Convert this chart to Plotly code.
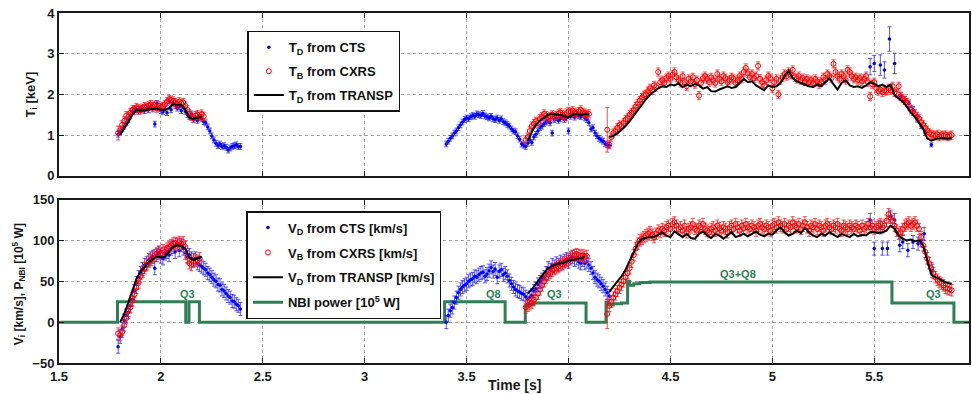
import numpy as np
import plotly.graph_objects as go
from plotly.subplots import make_subplots

# ---------------- DATA ----------------
# sampling grids: (start time [s], step [s]); values follow in the lists
# ---- Top panel: ion temperature [keV]
ti_cts1_start, ti_cts1_step = 1.79, 0.01
ti_cts1 = [1.02, 1.08, 1.15, 1.22, 1.30, 1.38, 1.47, 1.58, 1.66, 1.62,
           1.58, 1.63, 1.66, 1.60, 1.67, 1.62, 1.70, 1.64, 1.27, 1.78,
           1.66, 1.60, 1.57, 1.64, 1.55, 1.84, 1.62, 1.80, 1.72, 1.66,
           1.70, 1.60, 1.68, 1.58, 1.50, 1.45, 1.52, 1.38, 1.42, 1.36,
           1.48, 1.40, 1.33, 1.30, 1.20, 1.10, 0.98, 0.88, 0.80, 0.74,
           0.78, 0.72, 0.74, 0.70, 0.63, 0.68, 0.72, 0.74, 0.76, 0.72, 0.72]
ti_cts2_start, ti_cts2_step = 3.40, 0.01
ti_cts2 = [0.78, 0.85, 0.92, 0.98, 1.05, 1.10, 1.18, 1.25, 1.32, 1.38,
           1.42, 1.40, 1.45, 1.48, 1.46, 1.52, 1.50, 1.48, 1.53, 1.47,
           1.45, 1.42, 1.46, 1.40, 1.38, 1.42, 1.36, 1.40, 1.33, 1.30,
           1.26, 1.22, 1.15, 1.10, 1.08, 0.98, 0.90, 0.78, 0.75, 0.72,
           0.80, 0.88, 0.82, 0.95, 1.02, 1.10, 1.18, 1.22, 1.28, 1.32,
           1.35, 1.30, 1.05, 1.38, 1.42, 1.36, 1.40, 1.45, 1.38, 1.42,
           1.10, 1.46, 1.50, 1.44, 1.52, 1.48, 1.45, 1.50, 1.42, 1.38,
           1.30, 1.15, 1.18, 1.05, 0.98, 0.92, 0.88, 0.85, 0.78, 0.76, 0.75]
ti_cts3_t = [5.48, 5.50, 5.53, 5.55, 5.575, 5.60, 5.63, 5.65, 5.67, 5.69, 5.71, 5.73, 5.75, 5.78]
ti_cts3 = [2.68, 2.76, 2.72, 2.60, 3.36, 2.76, 1.95, 1.85, 1.78, 1.62, 1.40, 1.22, 1.05, 0.76]
ti_cts3_err = [0.2, 0.2, 0.25, 0.2, 0.3, 0.25, 0.1, 0.1, 0.08, 0.08, 0.08, 0.06, 0.06, 0.05]

ti_cxrs1_start, ti_cxrs1_step = 1.79, 0.01
ti_cxrs1 = [1.05, 1.12, 1.25, 1.35, 1.48, 1.45, 1.55, 1.62, 1.60, 1.68,
            1.65, 1.62, 1.66, 1.70, 1.68, 1.72, 1.75, 1.70, 1.74, 1.66,
            1.72, 1.68, 1.70, 1.75, 1.82, 1.88, 1.86, 1.84, 1.80, 1.76,
            1.82, 1.78, 1.80, 1.72, 1.62, 1.52, 1.46, 1.42, 1.48, 1.50,
            1.45, 1.52, 1.46]
ti_cxrs2_start, ti_cxrs2_step = 3.79, 0.01
ti_cxrs2 = [0.88, 0.95, 1.10, 1.22, 1.28, 1.34, 1.30, 1.40, 1.45, 1.52,
            1.48, 1.42, 1.46, 1.50, 1.44, 1.48, 1.52, 1.55, 1.50, 1.46,
            1.54, 1.58, 1.56, 1.60, 1.55, 1.52, 1.58, 1.62, 1.56, 1.54,
            1.50, 1.52]
ti_cxrs3_start, ti_cxrs3_step = 4.19, 0.01
ti_cxrs3 = [1.13, 0.76, 0.95, 1.05, 1.10, 1.18, 1.25, 1.22, 1.30, 1.38,
            1.42, 1.50, 1.55, 1.62, 1.70, 1.78, 1.85, 1.92, 1.98, 2.00,
            2.08, 2.15, 2.10, 2.22, 2.18, 2.55, 2.30, 2.35, 2.28, 2.40,
            2.45, 2.38, 2.48, 2.55, 2.42, 2.35, 2.28, 2.45, 2.30, 2.20,
            2.38, 2.32, 2.42, 2.25, 2.35, 1.97, 2.28, 2.40, 2.45, 2.38,
            2.30, 2.42, 2.35, 2.28, 2.50, 2.38, 2.32, 2.45, 2.40, 2.30,
            2.35, 2.42, 2.38, 2.28, 2.35, 2.45, 2.38, 2.55, 2.65, 2.52,
            2.42, 2.50, 2.40, 2.45, 2.70, 2.38, 2.30, 2.22, 2.35, 2.45,
            2.40, 2.15, 2.30, 2.38, 2.00, 2.35, 2.42, 2.50, 2.45, 2.55,
            2.48, 2.60, 2.42, 2.38, 2.45, 2.35, 2.40, 2.32, 2.38, 2.30,
            2.35, 2.28, 2.38, 2.32, 2.25, 2.30, 2.42, 2.35, 2.50, 2.45,
            2.40, 2.75, 2.55, 2.45, 2.38, 2.50, 2.45, 2.35, 2.60, 2.55,
            2.45, 2.38, 2.42, 2.35, 2.40, 2.32, 2.38, 2.45, 2.30, 1.95,
            2.25, 2.30, 2.15, 2.08, 2.12, 2.05, 2.10, 2.08, 2.15, 2.10,
            2.20, 2.05, 2.02, 2.20, 1.95, 1.90, 1.85, 1.80, 1.72, 1.62,
            1.58, 1.52, 1.45, 1.40, 1.32, 1.25, 1.18, 1.12, 1.05, 1.02,
            1.00, 0.98, 1.02, 0.96, 1.00, 0.98, 1.00, 0.96, 0.98, 1.00]

ti_tr1_start, ti_tr1_step = 1.80, 0.02
ti_tr1 = [1.00, 1.15, 1.32, 1.50, 1.62, 1.60, 1.62, 1.63, 1.64, 1.65,
          1.62, 1.62, 1.66, 1.77, 1.74, 1.74, 1.62, 1.42, 1.40, 1.42, 1.45]
ti_tr2_start, ti_tr2_step = 3.80, 0.02
ti_tr2 = [0.85, 1.08, 1.25, 1.36, 1.42, 1.50, 1.52, 1.50, 1.50, 1.46,
          1.43, 1.50, 1.52, 1.48, 1.52, 1.50]
ti_tr3_start, ti_tr3_step = 4.20, 0.02
ti_tr3 = [0.95, 0.98, 1.04, 1.12, 1.22, 1.34, 1.48, 1.62, 1.76, 1.88,
          1.99, 2.08, 2.15, 2.20, 2.18, 2.24, 2.22, 2.27, 2.18, 2.24,
          2.20, 2.26, 2.22, 2.14, 2.18, 2.08, 2.07, 2.12, 2.16, 2.20,
          2.16, 2.18, 2.28, 2.38, 2.30, 2.32, 2.22, 2.15, 2.10, 2.22,
          2.18, 2.20, 2.28, 2.45, 2.58, 2.40, 2.32, 2.28, 2.24, 2.20,
          2.18, 2.24, 2.20, 2.30, 2.40, 2.25, 2.12, 2.28, 2.35, 2.22,
          2.18, 2.20, 2.16, 2.22, 2.30, 2.26, 2.20, 2.24, 2.18, 2.24,
          1.98, 1.90, 1.82, 1.70, 1.55, 1.45, 1.30, 1.15, 0.92, 0.86,
          0.90, 0.92, 0.92, 0.91, 0.92]

# ---- Bottom panel: rotation velocity [km/s]
v_cts1_start, v_cts1_step = 1.79, 0.01
v_cts1 = [-30, -18, -8, 2, 8, 12, 20, 28, 38, 48,
          55, 60, 65, 70, 72, 76, 78, 80, 66, 82,
          85, 80, 78, 84, 86, 82, 90, 92, 86, 95,
          88, 94, 90, 85, 80, 82, 78, 76, 78, 72,
          70, 68, 66, 64, 60, 58, 55, 52, 50, 46,
          45, 40, 38, 35, 32, 30, 26, 25, 22, 20, 16]
v_cts2_start, v_cts2_step = 3.40, 0.01
v_cts2 = [0, 8, 14, 18, 24, 30, 36, 40, 43, 45,
          47, 50, 52, 53, 56, 55, 58, 60, 61, 56,
          59, 63, 67, 62, 65, 55, 62, 64, 58, 60,
          56, 51, 47, 43, 40, 38, 37, 35, 34, 31,
          28, 30, 33, 38, 41, 46, 49, 52, 55, 60,
          66, 64, 70, 68, 72, 70, 74, 72, 75, 77,
          74, 78, 80, 76, 78, 74, 72, 76, 72, 74,
          70, 66, 60, 55, 52, 50, 47, 44, 40, 36, 32]
v_cts3_t = [5.48, 5.50, 5.53, 5.54, 5.565, 5.58, 5.60, 5.625, 5.64, 5.665, 5.69, 5.715, 5.73, 5.745, 5.785]
v_cts3 = [125, 90, 116, 90, 90, 129, 125, 94, 98, 88, 98, 96, 100, 108, 63]

v_cxrs1_start, v_cxrs1_step = 1.79, 0.01
v_cxrs1 = [-14, -16, -12, -4, 5, 14, 18, 26, 34, 42,
           48, 56, 62, 66, 70, 74, 76, 79, 82, 84,
           86, 84, 88, 86, 90, 92, 94, 96, 97, 95,
           98, 96, 98, 92, 80, 72, 70, 74, 76, 75, 78]
v_cxrs2_start, v_cxrs2_step = 3.79, 0.01
v_cxrs2 = [18, 20, 22, 24, 27, 30, 35, 40, 45, 50,
           54, 58, 60, 63, 65, 66, 68, 70, 71, 73,
           75, 77, 79, 81, 82, 83, 82, 81, 82, 80, 81]
v_cxrs3_start, v_cxrs3_step = 4.19, 0.01
v_cxrs3 = [10, 20, 25, 30, 34, 38, 42, 46, 50, 55,
           60, 66, 74, 82, 90, 96, 100, 102, 104, 106,
           108, 110, 107, 104, 108, 112, 110, 114, 112, 116,
           118, 114, 120, 122, 118, 114, 116, 112, 118, 110,
           114, 116, 120, 114, 112, 118, 116, 120, 114, 112,
           110, 114, 116, 112, 118, 115, 112, 116, 114, 110,
           116, 118, 114, 120, 116, 112, 118, 115, 120, 116,
           114, 118, 116, 112, 118, 120, 116, 114, 118, 116,
           112, 118, 120, 116, 122, 118, 116, 120, 114, 118,
           116, 122, 118, 116, 120, 114, 118, 122, 116, 112,
           118, 116, 120, 114, 118, 116, 112, 118, 120, 116,
           114, 118, 116, 120, 114, 112, 118, 116, 114, 118,
           116, 114, 118, 116, 112, 118, 114, 116, 120, 116,
           118, 114, 116, 118, 120, 116, 118, 124, 132, 128,
           124, 118, 112, 108, 110, 114, 118, 120, 122, 118,
           120, 122, 118, 114, 104, 94, 86, 78, 72, 66,
           60, 55, 52, 49, 47, 45, 42, 41, 40, 39]

v_tr1_start, v_tr1_step = 1.80, 0.02
v_tr1 = [0, 10, 24, 40, 53, 62, 68, 73, 77, 80,
         79, 80, 86, 92, 94, 93, 90, 79, 76, 78, 80]
v_tr2_start, v_tr2_step = 3.80, 0.02
v_tr2 = [35, 40, 47, 54, 60, 66, 69, 71, 72, 73, 75, 76, 77, 78, 80]
v_tr3_start, v_tr3_step = 4.20, 0.02
v_tr3 = [37, 44, 50, 56, 64, 75, 86, 96, 102, 103,
         104, 104, 107, 110, 106, 104, 111, 108, 104, 108,
         103, 102, 108, 111, 106, 103, 108, 106, 102, 106,
         110, 104, 106, 108, 105, 108, 111, 107, 105, 108,
         107, 112, 116, 110, 106, 108, 112, 109, 115, 110,
         106, 104, 108, 106, 110, 107, 104, 108, 106, 104,
         108, 105, 107, 106, 110, 110, 109, 110, 112, 118,
         114, 106, 102, 100, 101, 99, 100, 94, 76, 58,
         55, 53, 50, 48, 47]

# ---- NBI power [1e5 W] (step changes)
nbi_t = [1.50, 1.787, 2.122, 2.138, 2.189, 3.392, 3.689, 3.788, 3.80, 3.83,
         4.086, 4.184, 4.19, 4.22, 4.26, 4.29, 4.30, 4.32, 4.35, 4.40,
         5.587, 5.891, 5.97]
nbi_p = [0, 25, 0, 25, 0, 25, 0, 20, 22, 23.5,
         0, 24.5, 21, 22.5, 23.5, 50, 45, 47, 48.5, 49.2,
         23.5, 0, 0]

nbi_labels = ["Q3", "Q8", "Q3", "Q3+Q8", "Q3"]
nbi_label_t = [2.13, 3.63, 3.93, 4.83, 5.79]
nbi_label_v = [34, 34, 34, 59, 34]

# error-bar half widths
err_ti_cts, err_ti_cxrs = 0.07, 0.1
err_v_cts, err_v_cxrs = 8, 7

x_ticks = [1.5, 2, 2.5, 3, 3.5, 4, 4.5, 5, 5.5]
ti_ticks = [0, 1, 2, 3, 4]
v_ticks = [-50, 0, 50, 100, 150]


# ---------------- helpers ----------------
def grid(t0, step, n):
    return np.round(t0 + step * np.arange(n), 3)


def join(parts):
    xs, ys = [], []
    for i, (x, y) in enumerate(parts):
        if i:
            xs.append(None)
            ys.append(None)
        xs += list(x)
        ys += list(y)
    return xs, ys


BLUE = "#0000ff"
RED = "#ff0000"
GREEN = "#2e7f55"
FONT = "Liberation Sans"
BLUE_ERR = "rgba(30,30,255,0.75)"
RED_ERR = "rgba(255,30,30,0.8)"

fig = make_subplots(rows=2, cols=1)

# ---- top panel
t_c1 = grid(ti_cts1_start, ti_cts1_step, len(ti_cts1))
t_c2 = grid(ti_cts2_start, ti_cts2_step, len(ti_cts2))
cts_x = list(t_c1) + list(t_c2) + list(ti_cts3_t)
cts_y = ti_cts1 + ti_cts2 + ti_cts3
cts_e = [err_ti_cts] * (len(ti_cts1) + len(ti_cts2)) + ti_cts3_err
fig.add_trace(go.Scatter(
    x=cts_x, y=cts_y, mode="markers", name="T<sub>D</sub> from CTS",
    marker=dict(color=BLUE, size=3.5, symbol="circle"),
    error_y=dict(type="data", array=cts_e, color=BLUE_ERR, thickness=1, width=2),
    legend="legend", legendrank=1, legendgroup="a"), row=1, col=1)

x1 = grid(ti_cxrs1_start, ti_cxrs1_step, len(ti_cxrs1))
x2 = grid(ti_cxrs2_start, ti_cxrs2_step, len(ti_cxrs2))
x3 = grid(ti_cxrs3_start, ti_cxrs3_step, len(ti_cxrs3))
cx_e = [err_ti_cxrs] * (len(x1) + len(x2) + len(x3))
cx_e[0] = 0.17
cx_e[len(x1) + len(x2)] = 0.55
fig.add_trace(go.Scatter(
    x=list(x1) + list(x2) + list(x3), y=ti_cxrs1 + ti_cxrs2 + ti_cxrs3,
    mode="markers", name="T<sub>B</sub> from CXRS",
    marker=dict(color=RED, size=5, symbol="circle-open", line=dict(width=1)),
    error_y=dict(type="data", array=cx_e, color=RED_ERR, thickness=1, width=2),
    legend="legend", legendrank=2, legendgroup="b"), row=1, col=1)

tx, ty = join([(grid(ti_tr1_start, ti_tr1_step, len(ti_tr1)), ti_tr1),
               (grid(ti_tr2_start, ti_tr2_step, len(ti_tr2)), ti_tr2),
               (grid(ti_tr3_start, ti_tr3_step, len(ti_tr3)), ti_tr3)])
fig.add_trace(go.Scatter(
    x=tx, y=ty, mode="lines", name="T<sub>D</sub> from TRANSP",
    line=dict(color="black", width=2), connectgaps=False,
    legend="legend", legendrank=3, legendgroup="c"), row=1, col=1)

# ---- bottom panel
fig.add_trace(go.Scatter(
    x=nbi_t, y=nbi_p, mode="lines", name="NBI power [10<sup>5</sup> W]",
    line=dict(color=GREEN, width=3, shape="hv"),
    legend="legend2", legendrank=4, legendgroup="d"), row=2, col=1)

vx1 = grid(v_cts1_start, v_cts1_step, len(v_cts1))
vx2 = grid(v_cts2_start, v_cts2_step, len(v_cts2))
fig.add_trace(go.Scatter(
    x=list(vx1) + list(vx2) + v_cts3_t, y=v_cts1 + v_cts2 + v_cts3,
    mode="markers", name="V<sub>D</sub> from CTS [km/s]",
    marker=dict(color=BLUE, size=3.5),
    error_y=dict(type="constant", value=err_v_cts, color=BLUE_ERR, thickness=1, width=2),
    legend="legend2", legendrank=1, legendgroup="e"), row=2, col=1)

wx1 = grid(v_cxrs1_start, v_cxrs1_step, len(v_cxrs1))
wx2 = grid(v_cxrs2_start, v_cxrs2_step, len(v_cxrs2))
wx3 = grid(v_cxrs3_start, v_cxrs3_step, len(v_cxrs3))
vcx_e = [err_v_cxrs] * (len(wx1) + len(wx2) + len(wx3))
vcx_e[len(wx1) + len(wx2)] = 18
fig.add_trace(go.Scatter(
    x=list(wx1) + list(wx2) + list(wx3), y=v_cxrs1 + v_cxrs2 + v_cxrs3,
    mode="markers", name="V<sub>B</sub> from CXRS [km/s]",
    marker=dict(color=RED, size=5, symbol="circle-open", line=dict(width=1)),
    error_y=dict(type="data", array=vcx_e, color=RED_ERR, thickness=1, width=2),
    legend="legend2", legendrank=2, legendgroup="f"), row=2, col=1)

vx, vy = join([(grid(v_tr1_start, v_tr1_step, len(v_tr1)), v_tr1),
               (grid(v_tr2_start, v_tr2_step, len(v_tr2)), v_tr2),
               (grid(v_tr3_start, v_tr3_step, len(v_tr3)), v_tr3)])
fig.add_trace(go.Scatter(
    x=vx, y=vy, mode="lines", name="V<sub>D</sub> from TRANSP [km/s]",
    line=dict(color="black", width=2), connectgaps=False,
    legend="legend2", legendrank=3, legendgroup="g"), row=2, col=1)

for lab, t, v in zip(nbi_labels, nbi_label_t, nbi_label_v):
    fig.add_annotation(x=t, y=v, xref="x2", yref="y2", text=lab, showarrow=False,
                       font=dict(family=FONT, size=11, color=GREEN, weight="bold"))

# ---------------- axes ----------------
axis_common = dict(
    showline=True, linewidth=2, linecolor="#1a1a1a", mirror="ticks",
    ticks="inside", ticklen=5, tickwidth=1, tickcolor="#1a1a1a",
    showgrid=True, gridcolor="#a8a8a8", griddash="dot", gridwidth=1,
    zeroline=False,
    tickfont=dict(family=FONT, size=13, color="#1a1a1a", weight="bold"),
)
fig.update_xaxes(axis_common)
fig.update_yaxes(axis_common)
fig.update_xaxes(range=[1.5, 5.965], tickvals=x_ticks, ticktext=[f"{v:g}" for v in x_ticks])
fig.update_xaxes(showticklabels=False, row=1, col=1)
fig.update_yaxes(range=[0, 4], tickvals=ti_ticks, domain=[0.535, 1.0], row=1, col=1)
fig.update_yaxes(range=[-50, 150], tickvals=v_ticks, ticktext=["\u221250", "0", "50", "100", "150"],
                 domain=[0.0, 0.467], row=2, col=1)

# axis titles
fig.add_annotation(x=-0.0307, y=0.767, xref="paper", yref="paper", text="T<sub>i</sub> [keV]",
                   textangle=-90, showarrow=False, xanchor="center", yanchor="middle",
                   font=dict(family=FONT, size=13, color="#1a1a1a", weight="bold"))
fig.add_annotation(x=-0.044, y=0.225, xref="paper", yref="paper",
                   text="V<sub>i</sub> [km/s], P<sub>NBI</sub> [10<sup>5</sup> W]",
                   textangle=-90, showarrow=False, xanchor="center", yanchor="middle",
                   font=dict(family=FONT, size=12, color="#1a1a1a", weight="bold"))
fig.add_annotation(x=0.5, y=-0.063, xref="paper", yref="paper", text="Time [s]",
                   showarrow=False, xanchor="center", yanchor="middle",
                   font=dict(family=FONT, size=14, color="#1a1a1a", weight="bold"))

legend_common = dict(
    xanchor="left", yanchor="top", bgcolor="white", bordercolor="#111111", borderwidth=1.5,
    font=dict(family=FONT, size=13, color="#111111", weight="bold"), tracegroupgap=4,
    itemwidth=30, traceorder="grouped",
)
fig.update_layout(
    width=972, height=394,
    margin=dict(l=59, r=1, t=13, b=31),
    paper_bgcolor="white", plot_bgcolor="white",
    legend=dict(legend_common, x=0.207, y=0.949),
    legend2=dict(legend_common, x=0.206, y=0.434, tracegroupgap=5),
    showlegend=True,
)

fig.write_html("out.html")
